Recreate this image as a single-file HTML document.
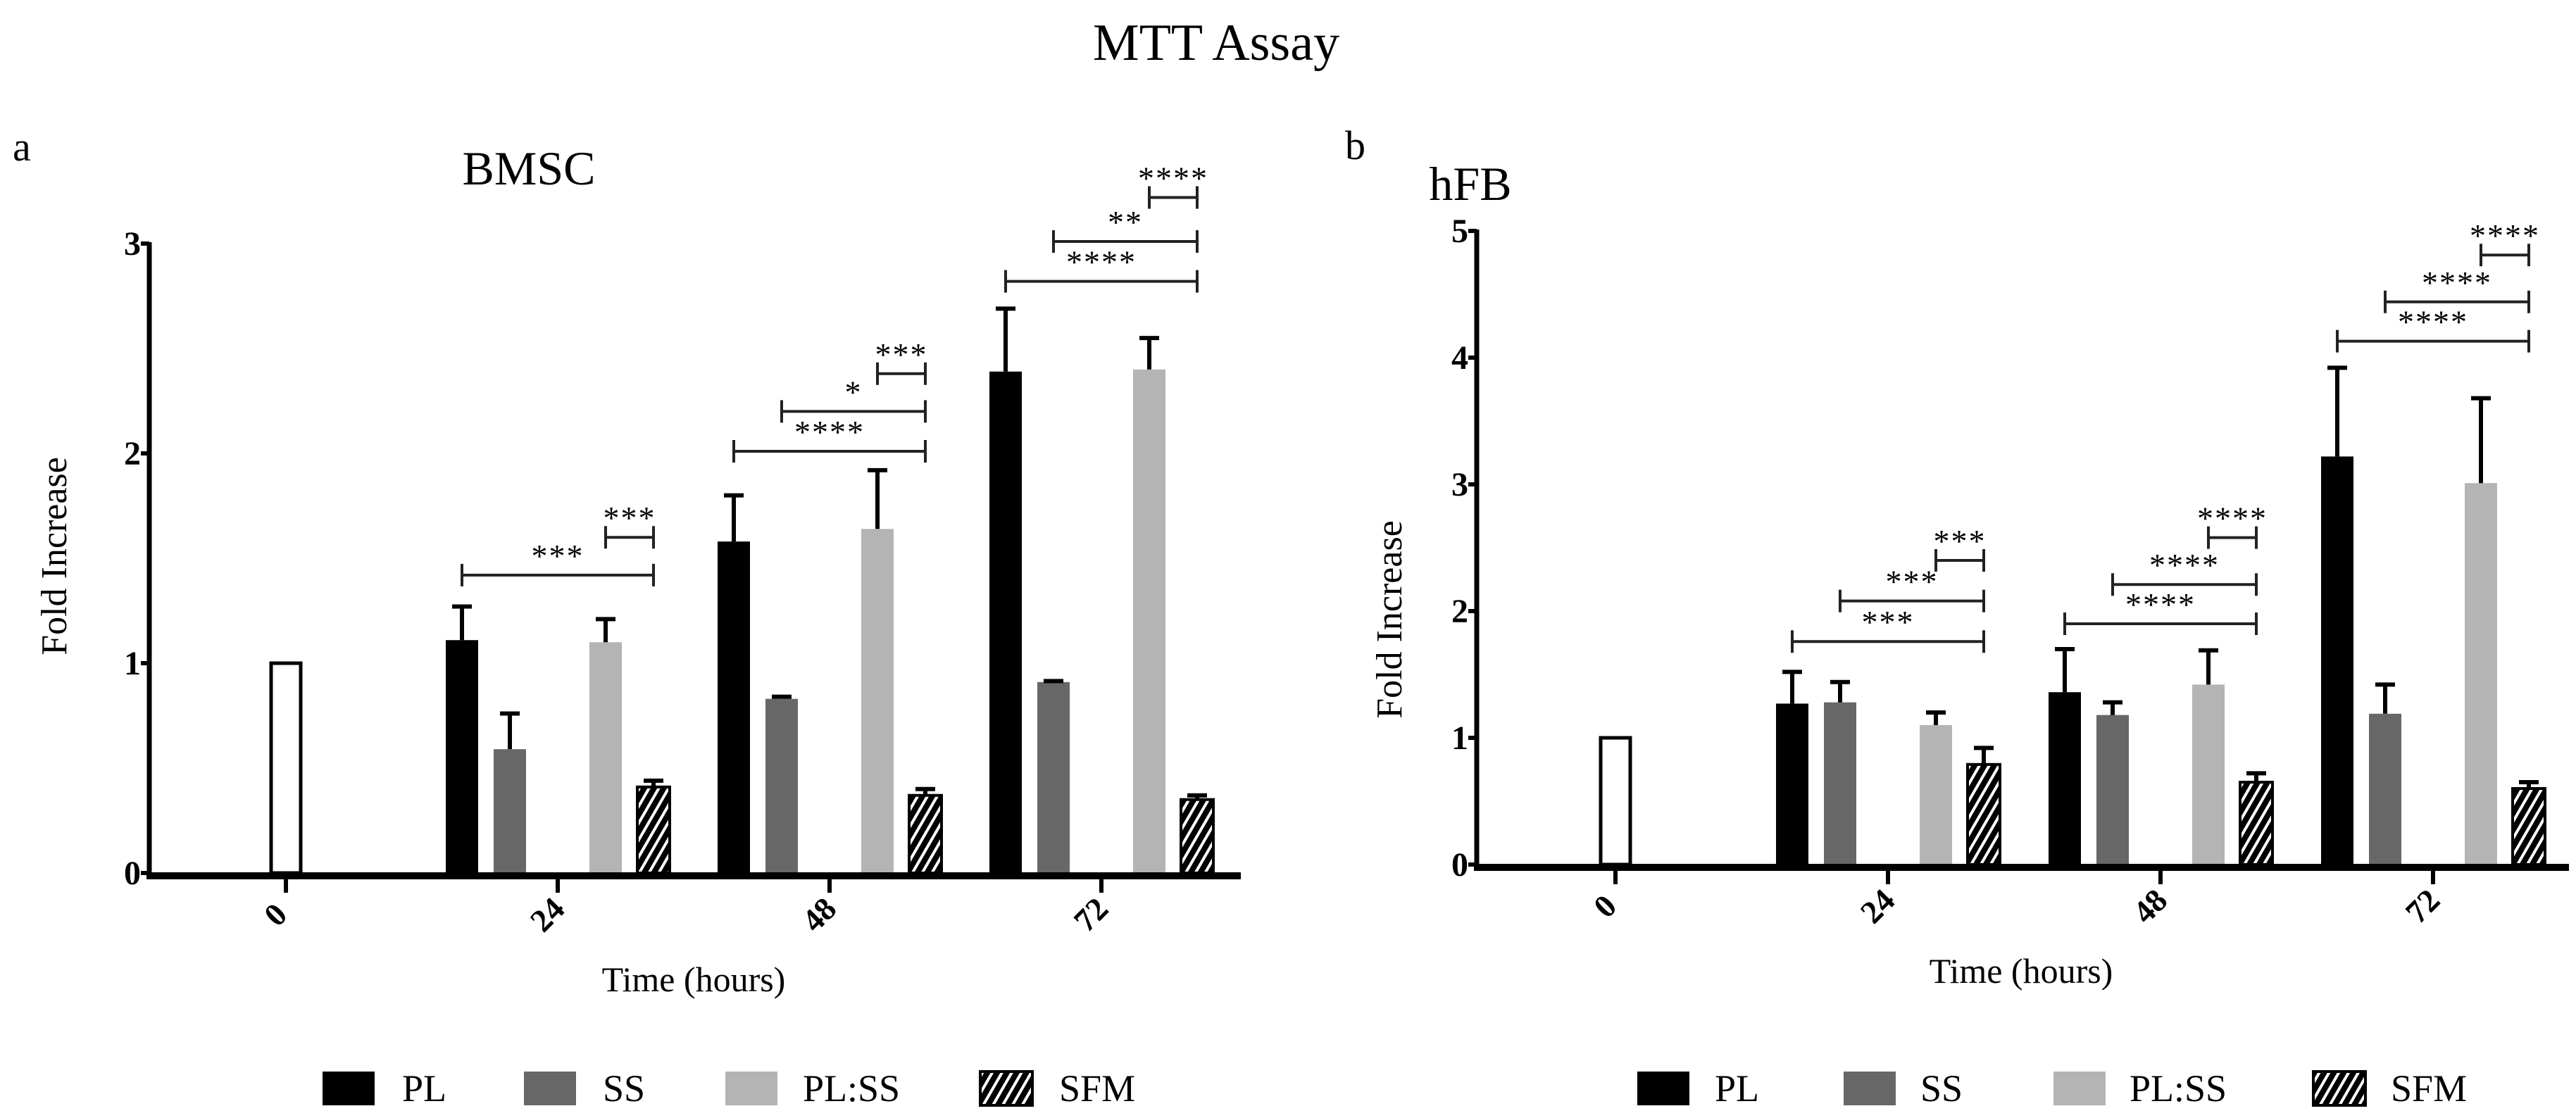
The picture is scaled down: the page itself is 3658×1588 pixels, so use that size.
<!DOCTYPE html>
<html><head><meta charset="utf-8"><style>
html,body{margin:0;padding:0;background:#fff;font-family:"Liberation Serif",serif;}
svg{display:block;font-family:"Liberation Serif",serif;}
svg text, svg g text{font-family:"Liberation Serif",serif !important;}
</style></head><body>
<svg id="fig" width="3658" height="1588" viewBox="0 0 3658 1588">
<defs>
<pattern id="hatch" patternUnits="userSpaceOnUse" width="12" height="12" patternTransform="rotate(30)">
<rect width="12" height="12" fill="#000"/><rect x="0" y="0" width="4" height="12" fill="#fff"/>
</pattern>
</defs>
<text x="1727" y="85" font-size="74" text-anchor="middle" style="font-family:'Liberation Serif',serif">MTT Assay</text>
<text x="18" y="228" font-size="58" style="font-family:'Liberation Serif',serif">a</text>
<text x="1910" y="226" font-size="58" style="font-family:'Liberation Serif',serif">b</text>
<g id="pa" style="font-family:'Liberation Serif',serif"></g><g id="pb" style="font-family:'Liberation Serif',serif"></g>
</svg>
<script>
const categories = ["0","24","48","72"];
const seriesNames = ["PL","SS","PL:SS","SFM"];
const controlValue = [1.0, 1.0];
// BMSC
const bmscPL = [1.11, 1.58, 2.39];
const bmscSS = [0.59, 0.83, 0.91];
const bmscPLSS = [1.10, 1.64, 2.40];
const bmscSFM = [0.41, 0.37, 0.35];
const bmscPLerr = [0.16, 0.22, 0.30];
const bmscSSerr = [0.17, 0.01, 0.005];
const bmscPLSSerr = [0.11, 0.28, 0.15];
const bmscSFMerr = [0.03, 0.03, 0.02];
const bmscTicks = [0,1,2,3];
const bmscSigY = [[1.42,null,1.60],[2.01,2.20,2.38],[2.82,3.01,3.22]];
const bmscSigStars = [["***",null,"***"],["****","*","***"],["****","**","****"]];
// hFB
const hfbPL = [1.27, 1.36, 3.22];
const hfbSS = [1.28, 1.18, 1.19];
const hfbPLSS = [1.10, 1.42, 3.01];
const hfbSFM = [0.79, 0.65, 0.60];
const hfbPLerr = [0.25, 0.34, 0.70];
const hfbSSerr = [0.16, 0.10, 0.23];
const hfbPLSSerr = [0.10, 0.27, 0.67];
const hfbSFMerr = [0.13, 0.07, 0.05];
const hfbTicks = [0,1,2,3,4,5];
const hfbSigY = [[1.76,2.08,2.40],[1.90,2.21,2.58],[4.13,4.44,4.81]];
const hfbSigStars = [["***","***","***"],["****","****","****"],["****","****","****"]];

const NS="http://www.w3.org/2000/svg";
function mk(parent,tag,attrs,txt){const e=document.createElementNS(NS,tag);for(const k in attrs)e.setAttribute(k,attrs[k]);if(txt!==undefined){e.textContent=txt;e.setAttribute('style',"font-family:'Liberation Serif',serif");}parent.appendChild(e);return e;}

function panel(g,cfg,vals,errs,ticks,sigY,sigStars){
  const y=v=>cfg.y0-v*cfg.unit;
  const x=i=>cfg.tick0+i*cfg.step;
  const fills=["#000","#676767","#b4b4b4","url(#hatch)"];
  const offs=[-2,-1,1,2];
  const bw=46, slot=68;
  let t=mk(g,'text',{x:cfg.titleX,y:cfg.titleY,'font-size':68,'text-anchor':'middle'},cfg.title);
  
  
  let cb=mk(g,'rect',{x:x(0)-bw/2+2,y:y(controlValue[0]),width:bw-4,height:cfg.y0-y(controlValue[0]),fill:'#fff',stroke:'#000','stroke-width':5});
  
  
  for(let gi=0;gi<3;gi++){
    const cx=x(gi+1);
    for(let s=0;s<4;s++){
      const v=vals[s][gi], e=errs[s][gi], bx=cx+offs[s]*slot;
      let r=mk(g,'rect',{x:bx-bw/2,y:y(v),width:bw,height:cfg.y0-y(v),fill:fills[s],stroke:s===3?'#000':'none','stroke-width':s===3?4:0});
      
      
      let eb=mk(g,'path',{d:`M${bx} ${y(v)} V${y(v+e)} M${bx-14} ${y(v+e)} H${bx+14}`,stroke:'#000','stroke-width':6,fill:'none'});
      
      
    }
    const endX=cx+2*slot;
    for(let k=0;k<3;k++){
      if(sigY[gi][k]===null)continue;
      const sx=cx+[-2,-1,1][k]*slot, by=y(sigY[gi][k]);
      let b=mk(g,'path',{d:`M${sx} ${by} H${endX} M${sx} ${by-16} V${by+16} M${endX} ${by-16} V${by+16}`,stroke:'#222','stroke-width':4,fill:'none'});
      
      
      let st=mk(g,'text',{x:(sx+endX)/2,y:by-12,'font-size':46,'text-anchor':'middle','letter-spacing':'2'},sigStars[gi][k]);
      
      
    }
  }
  let ya=mk(g,'line',{x1:cfg.ax,y1:y(ticks[ticks.length-1])-2,x2:cfg.ax,y2:cfg.y0+4,stroke:'#000','stroke-width':7});
  
  
  let xa=mk(g,'line',{x1:cfg.ax-4,y1:cfg.y0+4,x2:cfg.xEnd,y2:cfg.y0+4,stroke:'#000','stroke-width':10});
  
  
  ticks.forEach(tv=>{
    mk(g,'line',{x1:cfg.ax-12,x2:cfg.ax,y1:y(tv),y2:y(tv),stroke:'#000','stroke-width':6});
    let tl=mk(g,'text',{x:cfg.ax-12,y:y(tv)+16,'font-size':48,'font-weight':'bold','text-anchor':'end'},String(tv));
    
    
  });
  categories.forEach((c,i)=>{
    mk(g,'line',{x1:x(i),x2:x(i),y1:cfg.y0+8,y2:cfg.y0+28,stroke:'#000','stroke-width':6});
    let tl=mk(g,'text',{x:0,y:0,'font-size':46,'font-weight':'bold','text-anchor':'middle',transform:`translate(${x(i)-4},${cfg.y0+70}) rotate(-45)`},c);
    
    
  });
  let xt=mk(g,'text',{x:cfg.xTitleX,y:cfg.y0+168,'font-size':50,'text-anchor':'middle'},'Time (hours)');
  
  
  let yt=mk(g,'text',{x:0,y:0,'font-size':52,'text-anchor':'middle',transform:`translate(${cfg.yTitleX},${cfg.yTitleY}) rotate(-90)`},'Fold Increase');
  
  
  cfg.legend.forEach((lx,s)=>{
    let sw=mk(g,'rect',{x:lx[0],y:1522,width:74,height:48,fill:fills[s],stroke:s===3?'#000':'none','stroke-width':4});
    
    
    let lt=mk(g,'text',{x:lx[1],y:1564,'font-size':54},seriesNames[s]);
    
    
  });
}
panel(document.getElementById('pa'),{ax:212,y0:1240,unit:298,tick0:406,step:386,xEnd:1762,title:'BMSC',titleX:751,titleY:262,xTitleX:985,yTitleX:94,yTitleY:790,
  legend:[[458,571],[744,856],[1030,1140],[1392,1504]]},
  [bmscPL,bmscSS,bmscPLSS,bmscSFM],[bmscPLerr,bmscSSerr,bmscPLSSerr,bmscSFMerr],bmscTicks,bmscSigY,bmscSigStars);
panel(document.getElementById('pb'),{ax:2097,y0:1228,unit:180,tick0:2294,step:387,xEnd:3648,title:'hFB',titleX:2088,titleY:284,xTitleX:2870,yTitleX:1990,yTitleY:880,
  legend:[[2325,2435],[2618,2727],[2916,3024],[3285,3395]]},
  [hfbPL,hfbSS,hfbPLSS,hfbSFM],[hfbPLerr,hfbSSerr,hfbPLSSerr,hfbSFMerr],hfbTicks,hfbSigY,hfbSigStars);
</script>
</body></html>
